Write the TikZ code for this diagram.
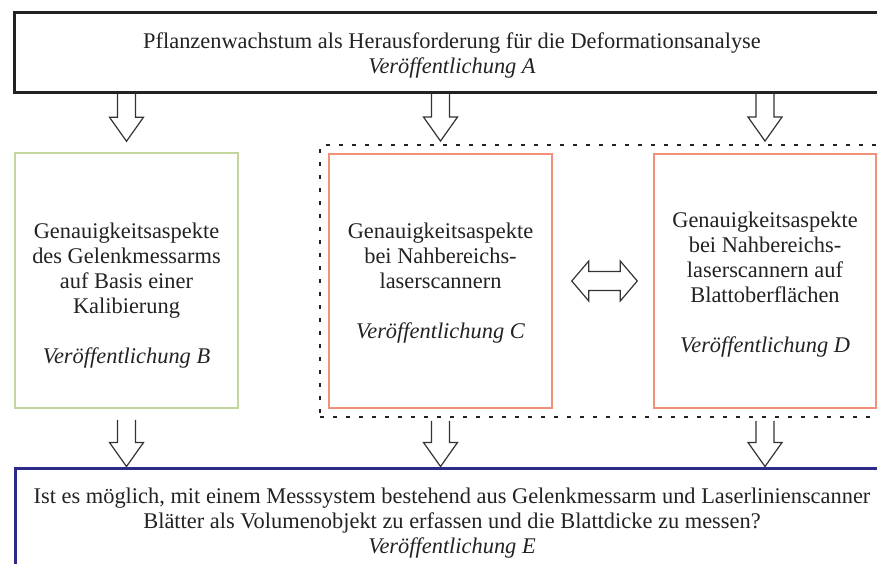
\documentclass[tikz,border=0pt]{standalone}
\usepackage{fontspec}
\setmainfont{Liberation Serif}
\usetikzlibrary{calc,fit}

\definecolor{rahmen}{HTML}{222222}
\definecolor{olivgruen}{HTML}{C3D69B}
\definecolor{lachs}{HTML}{F3907A}
\definecolor{marine}{HTML}{2C2B87}
\definecolor{pfeilgrau}{HTML}{333333}

\newcommand{\hoch}[1]{\rule{0pt}{#1}}

\tikzset{
  kasten/.style={draw, align=center, inner sep=0pt, text=rahmen,
    font=\fontsize{11.2}{12.5}\selectfont},
  fatarrow/.style={draw=pfeilgrau, line width=0.6pt, line join=miter,
    to path={let \p1=(\tikztostart), \p2=(\tikztotarget) in
      (\x1-4.5pt,\y1) -- (\x1-4.5pt,\y2+12pt) -- (\x1-8.5pt,\y2+12pt) -- (\x1,\y2)
      -- (\x1+8.5pt,\y2+12pt) -- (\x1+4.5pt,\y2+12pt) -- (\x1+4.5pt,\y1)}},
  dblarrow/.style={draw=pfeilgrau, line width=0.6pt, line join=miter,
    to path={let \p1=(\tikztostart), \p2=(\tikztotarget) in
      (\x1,\y1) -- (\x1+8.5pt,\y1+10pt) -- (\x1+8.5pt,\y1+4.75pt) -- (\x2-8.5pt,\y1+4.75pt)
      -- (\x2-8.5pt,\y1+10pt) -- (\x2,\y1) -- (\x2-8.5pt,\y1-10pt) -- (\x2-8.5pt,\y1-4.75pt)
      -- (\x1+8.5pt,\y1-4.75pt) -- (\x1+8.5pt,\y1-10pt) -- cycle}}
}

\begin{document}
\begin{tikzpicture}[x=0.5pt,y=-0.5pt]
  \useasboundingbox (0,0) rectangle (877,563);

  \node[kasten, draw=rahmen, line width=1.5pt, minimum width=438pt, minimum height=40pt]
    (anlass) at (452,52)
    {\hoch{11pt}Pflanzenwachstum als Herausforderung f\"ur die Deformationsanalyse\\
     \textit{Ver\"offentlichung A}};

  \node[kasten, draw=olivgruen, line width=0.75pt, minimum width=111.5pt, minimum height=127.5pt]
    (kalib) at (126.5,280.5)
    {\hoch{23pt}Genauigkeitsaspekte\\ des Gelenkmessarms\\ auf Basis einer\\ Kalibierung\\[12.5pt]
     \textit{Ver\"offentlichung B}};
  \node[kasten, draw=lachs, line width=0.75pt, minimum width=111.5pt, minimum height=127pt]
    (nahC) at (440.5,281)
    {\hoch{10pt}Genauigkeitsaspekte\\ bei Nahbereichs-\\ laserscannern\\[12.5pt]
     \textit{Ver\"offentlichung C}};
  \node[kasten, draw=lachs, line width=0.75pt, minimum width=111pt, minimum height=127pt]
    (nahD) at (765,281)
    {\hoch{11pt}Genauigkeitsaspekte\\ bei Nahbereichs-\\ laserscannern auf\\ Blattoberfl\"achen\\[12.5pt]
     \textit{Ver\"offentlichung D}};
  \node[draw=rahmen, line width=1.2pt, dash pattern=on 2pt off 4.5pt, inner sep=4pt,
    fit=(nahC)(nahD)] (gruppe) {};

  \node[kasten, draw=marine, line width=1.5pt, minimum width=437pt, minimum height=54pt]
    (frage) at (452,522)
    {\hoch{9pt}Ist es m\"oglich, mit einem Messsystem bestehend aus Gelenkmessarm und Laserlinienscanner\\
     Bl\"atter als Volumenobjekt zu erfassen und die Blattdicke zu messen?\\
     \textit{Ver\"offentlichung E}};

  \path[fatarrow] (anlass.south -| kalib) to ([yshift=5.5pt]kalib.north);
  \path[fatarrow] (anlass.south -| nahC) to ([yshift=1.5pt]gruppe.north -| nahC);
  \path[fatarrow] (anlass.south -| nahD) to ([yshift=1.5pt]gruppe.north -| nahD);

  \path[dblarrow] ([xshift=9.5pt]nahC.east) to ([xshift=-8pt]nahD.west);

  \path[fatarrow] ([yshift=-5.5pt]kalib.south) to (frage.north -| kalib);
  \path[fatarrow] ([yshift=-1.5pt]gruppe.south -| nahC) to (frage.north -| nahC);
  \path[fatarrow] ([yshift=-1.5pt]gruppe.south -| nahD) to (frage.north -| nahD);
\end{tikzpicture}
\end{document}
